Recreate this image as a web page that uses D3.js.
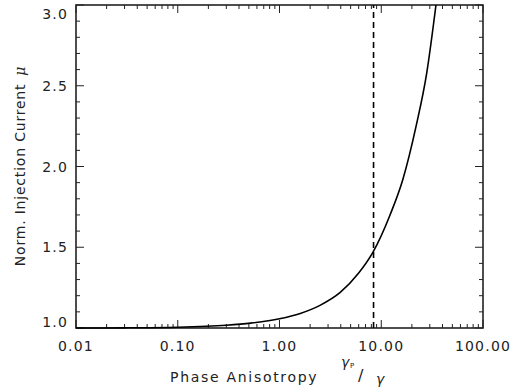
<!DOCTYPE html>
<html>
<head>
<meta charset="utf-8">
<script src="https://cdn.jsdelivr.net/npm/d3@7"></script>
<style>
  body { margin: 0; background: #fff; }
  text { font-family: 'DejaVu Sans', sans-serif; fill: #222; }
</style>
</head>
<body>
<div id="chart"></div>
<script>
// values
const anisotropy = [0.01, 0.03, 0.1, 0.3, 0.52, 1, 1.6, 2.5, 3.95, 6, 8.3, 12.2, 16.3, 22, 28, 34.5]
const current = [1.0, 1.001, 1.005, 1.017, 1.03, 1.057, 1.09, 1.14, 1.22, 1.34, 1.47, 1.70, 1.92, 2.25, 2.58, 3.0]
const markerX = 8.4
const xTicks = [0.01, 0.1, 1, 10, 100]
const yTicks = [1.0, 1.5, 2.0, 2.5, 3.0]

let w = 517,
  h = 389,
  margin = [5, 34, 61, 76] // top right bottom left

let x = d3.scaleLog().domain([0.01, 100]).range([margin[3], w - margin[1]])
let y = d3.scaleLinear().domain([1, 3]).range([h - margin[2], margin[0]])

let svg = d3.select('#chart').append('svg').attr('width', w).attr('height', h)

let x0 = margin[3], x1 = w - margin[1], y0 = h - margin[2], y1 = margin[0]

// minor / major ticks on all four sides
let xMinor = []
for (let e = -2; e < 2; e++) for (let k = 2; k <= 9; k++) xMinor.push(k * Math.pow(10, e))
let yMinor = d3.range(1.1, 3.0, 0.1).filter(v => Math.abs(v * 2 - Math.round(v * 2)) > 0.01)

let ticks = svg.append('g').attr('stroke', '#222').attr('stroke-width', 1)
xMinor.forEach(v => {
  ticks.append('line').attr('x1', x(v)).attr('x2', x(v)).attr('y1', y0).attr('y2', y0 - 4)
  ticks.append('line').attr('x1', x(v)).attr('x2', x(v)).attr('y1', y1).attr('y2', y1 + 4)
})
xTicks.forEach(v => {
  ticks.append('line').attr('x1', x(v)).attr('x2', x(v)).attr('y1', y0).attr('y2', y0 - 8)
  ticks.append('line').attr('x1', x(v)).attr('x2', x(v)).attr('y1', y1).attr('y2', y1 + 8)
})
yMinor.forEach(v => {
  ticks.append('line').attr('x1', x0).attr('x2', x0 + 4).attr('y1', y(v)).attr('y2', y(v))
  ticks.append('line').attr('x1', x1).attr('x2', x1 - 4).attr('y1', y(v)).attr('y2', y(v))
})
yTicks.forEach(v => {
  ticks.append('line').attr('x1', x0).attr('x2', x0 + 8).attr('y1', y(v)).attr('y2', y(v))
  ticks.append('line').attr('x1', x1).attr('x2', x1 - 8).attr('y1', y(v)).attr('y2', y(v))
})

// frame
svg.append('rect')
  .attr('x', x0).attr('y', y1)
  .attr('width', x1 - x0).attr('height', y0 - y1)
  .attr('fill', 'none').attr('stroke', '#222').attr('stroke-width', 1.6)

// tick labels
svg.selectAll('.xl').data(xTicks).enter().append('text')
  .attr('x', d => x(d)).attr('y', y0 + 23)
  .attr('text-anchor', 'middle')
  .style('font-size', '14px').style('letter-spacing', '1.2px')
  .text(d => d.toFixed(2))

// labels at the ends are kept inside the frame
svg.selectAll('.yl').data(yTicks).enter().append('text')
  .attr('x', x0 - 8).attr('y', d => Math.max(y1 + 14, Math.min(y0 - 1, y(d) + 5)))
  .attr('text-anchor', 'end')
  .style('font-size', '14px').style('letter-spacing', '1.2px')
  .text(d => d.toFixed(1))

// axis titles
svg.append('text')
  .attr('x', 170).attr('y', 382)
  .style('font-size', '14px').style('letter-spacing', '1.7px')
  .text('Phase Anisotropy')

let frac = svg.append('g').style('font-family', 'DejaVu Serif, serif')
frac.append('text').attr('x', 341).attr('y', 367).style('font-size', '14px').style('font-style', 'italic').text('γ')
frac.append('text').attr('x', 350).attr('y', 368).style('font-size', '7px').text('P')
frac.append('text').attr('x', 358).attr('y', 381).style('font-size', '16px').style('font-family', 'DejaVu Sans').text('/')
frac.append('text').attr('x', 376).attr('y', 384).style('font-size', '14px').style('font-style', 'italic').text('γ')

svg.append('text')
  .attr('transform', 'translate(25, 166) rotate(-90)')
  .attr('text-anchor', 'middle')
  .style('font-size', '14px').style('letter-spacing', '0.8px')
  .text('Norm. Injection Current')
  .append('tspan').attr('dx', 8).style('font-style', 'italic').style('font-family', 'DejaVu Serif').text('μ')

// curve
let pts = anisotropy.map((v, i) => [v, current[i]])
let line = d3.line().x(d => x(d[0])).y(d => y(d[1])).curve(d3.curveMonotoneX)
svg.append('path')
  .datum(pts)
  .attr('d', line)
  .attr('fill', 'none')
  .attr('stroke', '#000')
  .attr('stroke-width', 1.6)

// marker line
svg.append('line')
  .attr('x1', x(markerX)).attr('x2', x(markerX))
  .attr('y1', y0).attr('y2', y1)
  .attr('stroke', '#000').attr('stroke-width', 1.6)
  .attr('stroke-dasharray', '6,4')
</script>
</body>
</html>
